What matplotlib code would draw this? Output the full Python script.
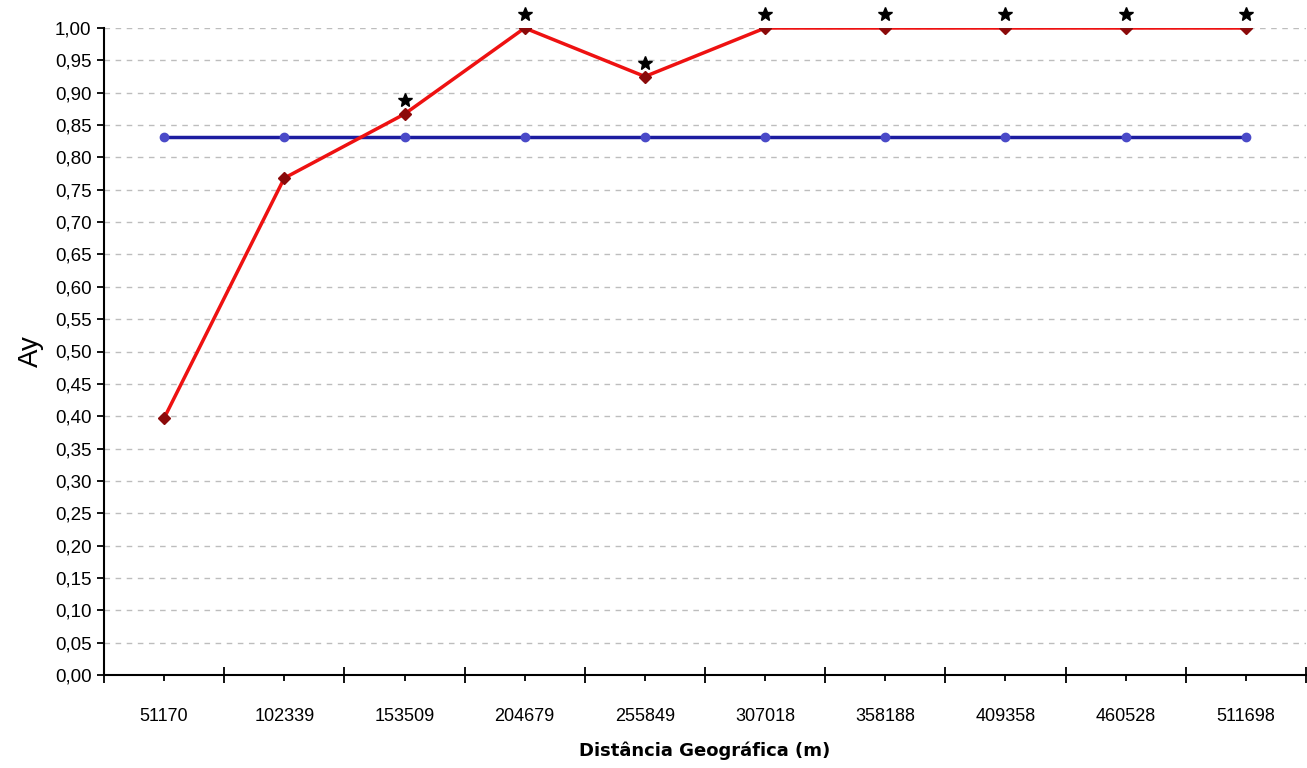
import matplotlib
matplotlib.use("Agg")
import matplotlib.pyplot as plt
import numpy as np

plt.rcParams["font.family"] = ["Liberation Sans", "DejaVu Sans"]

categories = ["51170", "102339", "153509", "204679", "255849",
              "307018", "358188", "409358", "460528", "511698"]
ay_values = [0.397, 0.768, 0.867, 1.00, 0.925, 1.00, 1.00, 1.00, 1.00, 1.00]
reference_values = [0.831] * 10
significant = [False, False, True, True, True, True, True, True, True, True]
star_offset = 0.021

fig = plt.figure(figsize=(13.07, 7.68), dpi=100)
ax = fig.add_axes((104 / 1307, 93 / 768, 1202 / 1307, 647 / 768))

x = np.arange(len(categories))

ax.plot(x, reference_values, color="#1c1ca0", linewidth=2.5,
        marker="o", markersize=6, markerfacecolor="#4a4ac8",
        markeredgecolor="#4a4ac8", zorder=3)
ax.plot(x, ay_values, color="#ee1111", linewidth=2.5,
        marker="D", markersize=6, markerfacecolor="#8b0a0a",
        markeredgecolor="#8b0a0a", zorder=4)

# asterisks above the significant points
star_x = [xi for xi, sig in zip(x, significant) if sig]
star_y = [yi + star_offset for yi, sig in zip(ay_values, significant) if sig]
ax.plot(star_x, star_y, linestyle="none", marker="*", markersize=10,
        color="black", clip_on=False, zorder=6)

ax.set_xlim(-0.5, len(categories) - 0.5)
ax.set_ylim(0, 1.0)
yticks = np.arange(0, 1.0001, 0.05)
ax.set_yticks(yticks)
ax.set_yticklabels([f"{v:.2f}".replace(".", ",") for v in yticks], fontsize=13.5)

ax.set_xticks(np.arange(-0.5, len(categories), 1.0))
ax.set_xticklabels([])
ax.set_xticks(x, minor=True)
ax.set_xticklabels(categories, minor=True, fontsize=13)
ax.tick_params(axis="x", which="major", length=12, width=1.3, direction="inout")
ax.tick_params(axis="x", which="minor", length=4, width=1.3, direction="out", pad=20)
ax.tick_params(axis="y", length=5, width=1.3, direction="out", pad=4)

ax.yaxis.grid(True, linestyle=(0, (4, 4)), color="#bdbdbd", linewidth=1.0)
ax.set_axisbelow(True)

for side in ("top", "right"):
    ax.spines[side].set_visible(False)
for side in ("left", "bottom"):
    ax.spines[side].set_linewidth(1.5)
    ax.spines[side].set_zorder(5)

ax.set_ylabel("Ay", fontsize=20, labelpad=8)
ax.set_xlabel("Distância Geográfica (m)", fontsize=13, fontweight="bold",
              family=["DejaVu Sans"], labelpad=12)

fig.savefig("out.png", dpi=100)
